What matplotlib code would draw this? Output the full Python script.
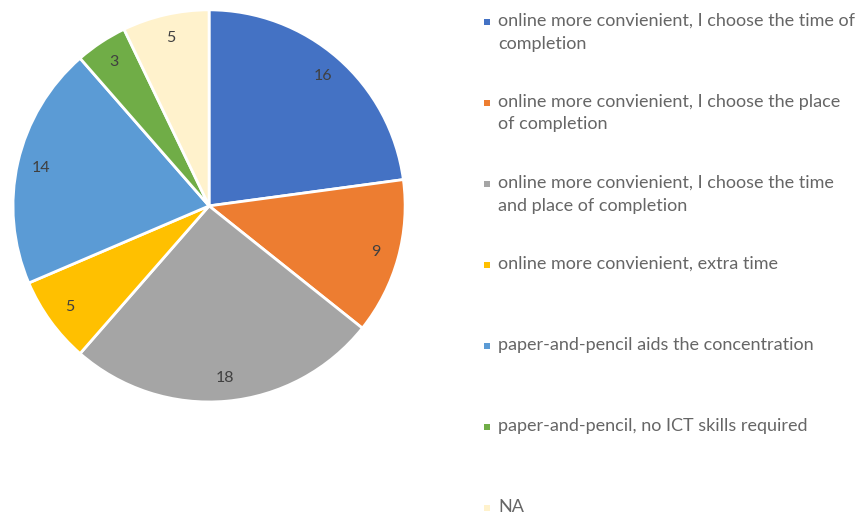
import matplotlib
matplotlib.use("Agg")
import matplotlib.pyplot as plt
from matplotlib.patches import Rectangle

# answers to the survey question, clockwise from 12 o'clock
categories = [
    "online more convienient, I choose the time of\ncompletion",
    "online more convienient, I choose the place\nof completion",
    "online more convienient, I choose the time\nand place of completion",
    "online more convienient, extra time",
    "paper-and-pencil aids the concentration",
    "paper-and-pencil, no ICT skills required",
    "NA",
]
counts = [16, 9, 18, 5, 14, 3, 5]
colors = ["#4472C4", "#ED7D31", "#A5A5A5", "#FFC000", "#5B9BD5", "#70AD47", "#FFF2CC"]

fig = plt.figure(figsize=(8.6, 5.18), dpi=100)
ax = fig.add_axes([0.0151, 0.224, 0.456, 0.757])

wedges, texts, autotexts = ax.pie(
    counts, colors=colors, startangle=90, counterclock=False,
    autopct=lambda p: "%d" % round(p * sum(counts) / 100.0),
    pctdistance=0.88, radius=1.0,
    wedgeprops=dict(edgecolor="white", linewidth=2),
    textprops=dict(color="#404040", fontsize=11.5, family="Lato"))
ax.set_xlim(-1.0, 1.0)
ax.set_ylim(-1.0, 1.0)
ax.set_aspect("equal")

# legend drawn by hand so every entry gets the same vertical slot
W, H = 860.0, 518.0
for i, (lab, c) in enumerate(zip(categories, colors)):
    y = 22 + 81 * i
    fig.patches.append(Rectangle((484 / W, 1 - (y + 3) / H), 6 / W, 6 / H,
                                 transform=fig.transFigure, facecolor=c,
                                 edgecolor="none"))
    fig.text(498 / W, 1 - (y - 9) / H, lab, ha="left", va="top",
             fontsize=13, family="Lato", color="#666666", linespacing=1.5)

fig.savefig("out.png", dpi=100, facecolor="white")
